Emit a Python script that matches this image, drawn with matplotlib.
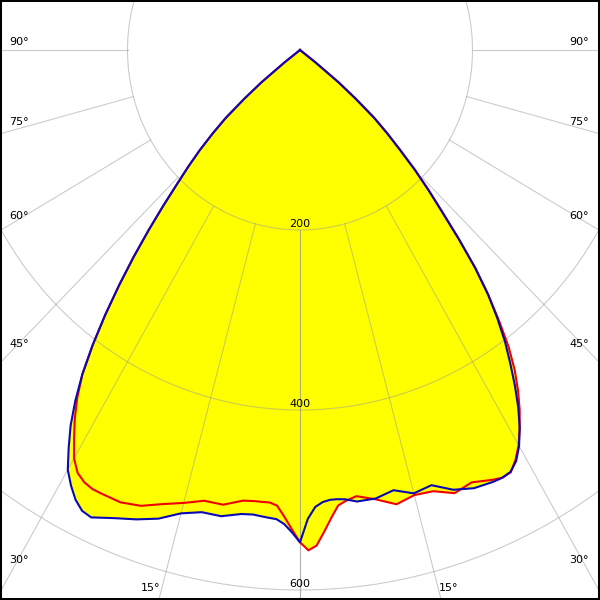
"""
Light distribution curve (polar, cd/klm) - C0/C180 plane in red, C90/C270 in blue
"""

import numpy as np
import matplotlib
matplotlib.use('Agg')
import matplotlib.pyplot as plt

# gamma angles (deg from nadir) and intensities
gamma = [0, 1, 2, 3, 4, 5, 6, 7.5, 10, 12.5, 15, 17.5, 20, 22.5,
         25, 26.25, 27.5, 28.75, 30, 31.25, 32.5, 33.75, 35, 36.25, 37.5, 38.75,
         40, 41.25, 42.5, 43.75, 45, 46.25, 47.5, 48.75, 50, 51.25, 52.5, 53.75, 90]

c0 = [547, 556, 551, 536, 521, 508, 504, 500, 507, 517, 512, 514, 524, 520,
      527, 530, 529, 519.5, 507, 491, 474, 455, 434, 409, 379, 348.5,
      316, 279, 244, 215.5, 188.5, 160.7, 137.5, 114.6, 84.7, 56.8, 22, 0, 0]
c180 = [547, 533, 519, 507, 504, 504, 504, 505, 513, 513, 521, 529, 539, 544,
        544, 544, 541.5, 536, 524, 505, 486, 465, 440, 406.5, 371, 335,
        300, 266, 234.5, 206, 183, 160.7, 137.5, 114.6, 84.7, 56.8, 22, 0, 0]
c90 = [547, 521, 508, 503, 501, 501, 502, 506, 506, 501, 510, 507, 520, 527,
       529.5, 530, 528.5, 521, 508, 491, 471, 448.5, 425, 402, 376, 348.5,
       316, 279, 244, 215.5, 188.5, 160.7, 137.5, 114.6, 84.7, 56.8, 22, 0, 0]
c270 = [547, 536, 527, 522, 521, 520, 519, 520, 526, 526, 533, 546, 555, 563,
        573, 571, 563.5, 552, 538.5, 517, 495, 469, 440, 406.5, 371, 335,
        300, 266, 234.5, 206, 183, 160.7, 137.5, 114.6, 84.7, 56.8, 22, 0, 0]

rings = [200, 400, 600]
ring_labels = ['200', '400', '600']
spokes = [0, 15, 30, 45, 60, 75, 90]
side_labels = [30, 45, 60, 75, 90]
bottom_labels = [15]

# pixel scale of the original drawing (slightly squeezed horizontally)
PX_X = 0.8625
PX_Y = 0.9


def curve_xy(left, right):
    g = np.radians(gamma)
    left = np.array(left, dtype=float)
    right = np.array(right, dtype=float)
    x = np.concatenate([-left[::-1] * np.sin(g[::-1]), right * np.sin(g)])
    y = np.concatenate([-left[::-1] * np.cos(g[::-1]), -right * np.cos(g)])
    return x, y


fig = plt.figure(figsize=(6, 6), dpi=100)
ax = fig.add_axes([0, 0, 1, 1])
ax.set_xlim(-300 / PX_X, 300 / PX_X)
ax.set_ylim(-550 / PX_Y, 50 / PX_Y)
ax.set_xticks([])
ax.set_yticks([])
for sp in ax.spines.values():
    sp.set_color('black')
    sp.set_linewidth(2.9)

red_x, red_y = curve_xy(c180, c0)
blue_x, blue_y = curve_xy(c270, c90)

# yellow area = union of both planes
ax.fill(red_x, red_y, color='#ffff00', lw=0, zorder=1)
ax.fill(blue_x, blue_y, color='#ffff00', lw=0, zorder=1)

# grid
t = np.linspace(0, 2 * np.pi, 500)
for r in rings:
    ax.plot(r * np.sin(t), r * np.cos(t), color='#999999', alpha=0.5, lw=0.8, zorder=2)
for a in spokes:
    s, c = np.sin(np.radians(a)), np.cos(np.radians(a))
    for side in (-1, 1):
        ax.plot([side * 200 * s, side * 1200 * s], [-200 * c, -1200 * c],
                color='#999999', alpha=0.5, lw=0.8, zorder=2)

ax.plot(red_x, red_y, color='#f00000', lw=1.5, zorder=3, solid_joinstyle='round')
ax.plot(blue_x, blue_y, color='#0a0ab4', lw=1.5, zorder=4, solid_joinstyle='round')

# intensity labels
for r, lab in zip(rings, ring_labels):
    ax.text(0, -r + 1 / PX_Y, lab, ha='center', va='bottom', fontsize=8, zorder=5)

# angle labels along the left/right borders
for a in side_labels:
    s, c = np.sin(np.radians(a)), np.cos(np.radians(a))
    xr = (300 - 18) / PX_X
    lift = max(0.0, 8 * np.cos(np.radians(2 * (90 - a))))
    yl = -xr * c / s + lift / PX_Y
    ax.text(-(300 - 9) / PX_X, yl, '%d°' % a, ha='left', va='center', fontsize=8, zorder=5)
    ax.text((300 - 11) / PX_X, yl, '%d°' % a, ha='right', va='center', fontsize=8, zorder=5)

for a in bottom_labels:
    yb = -(588 - 50) / PX_Y
    xb = -yb * np.tan(np.radians(a))
    ax.text(-xb - 2 / PX_X, yb, '%d°' % a, ha='right', va='center', fontsize=8, zorder=5)
    ax.text(xb + 1 / PX_X, yb, '%d°' % a, ha='left', va='center', fontsize=8, zorder=5)

fig.savefig('out.png', dpi=100)
